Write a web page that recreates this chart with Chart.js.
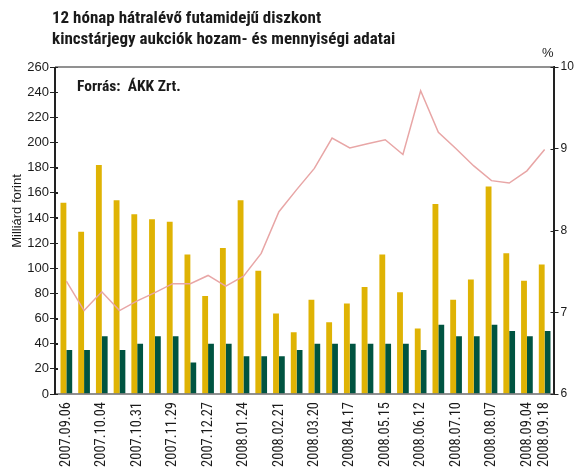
<!DOCTYPE html>
<html>
<head>
<meta charset="utf-8">
<script src="https://cdn.jsdelivr.net/npm/chart.js@4/dist/chart.umd.min.js"></script>
<style>
  body { margin: 0; background: #fff; }
  #wrap { width: 575px; height: 468px; }
</style>
</head>
<body>
<div id="wrap"><canvas id="auction_chart" width="575" height="468"></canvas></div>
<script>
let auction_dates = ['2007.09.06', '2007.09.20', '2007.10.04', '2007.10.18', '2007.10.31', '2007.11.15',
  '2007.11.29', '2007.12.13', '2007.12.27', '2008.01.10', '2008.01.24', '2008.02.07', '2008.02.21',
  '2008.03.06', '2008.03.20', '2008.04.03', '2008.04.17', '2008.04.30', '2008.05.15', '2008.05.29',
  '2008.06.12', '2008.06.26', '2008.07.10', '2008.07.24', '2008.08.07', '2008.08.21', '2008.09.04',
  '2008.09.18'];

// milliard forint
let bid_amounts = [152, 129, 182, 154, 143, 139, 137, 111, 78, 116, 154, 98, 64, 49,
  75, 57, 72, 85, 111, 81, 52, 151, 75, 91, 165, 112, 90, 103];
let accepted_amounts = [35, 35, 46, 35, 40, 46, 46, 25, 40, 40, 30, 30, 30, 35,
  40, 40, 40, 40, 40, 40, 35, 55, 46, 46, 55, 50, 46, 50];

// percent, right axis
let avg_yields = [7.38, 7.02, 7.25, 7.02, 7.14, 7.24, 7.35, 7.35, 7.45, 7.32, 7.44, 7.72, 8.23, 8.50,
  8.76, 9.13, 9.01, 9.06, 9.11, 8.93, 9.71, 9.20, 9.00, 8.79, 8.61, 8.58, 8.73, 8.99];

let title_lines = ['12 hónap hátralévő futamidejű diszkont', 'kincstárjegy aukciók hozam- és mennyiségi adatai'];
let source_text = 'Forrás:  ÁKK Zrt.';
let left_axis_title = 'Milliárd forint';

let narrow = "'Roboto Condensed', 'DejaVu Sans Condensed', sans-serif";
let regular = "'Liberation Sans', Arial, sans-serif";

// the left axis line sits a little left of where the bars begin
let axis_x = 55;

// texts, frame and the cross-over tick stubs that Chart.js can't draw itself
let decorations = {
  id: 'decorations',
  afterDraw(chart) {
    let ctx = chart.ctx;
    let area = chart.chartArea;
    ctx.save();

    ctx.fillStyle = '#1a1a1a';
    ctx.font = 'bold 17px ' + narrow;
    ctx.textAlign = 'left';
    ctx.textBaseline = 'alphabetic';
    ctx.fillText(title_lines[0], 52, 23);
    ctx.fillText(title_lines[1], 52, 44);

    ctx.font = 'bold 15.5px ' + narrow;
    ctx.fillText(source_text, 77, 91);

    ctx.font = '13px ' + regular;
    ctx.textAlign = 'right';
    ctx.fillText('%', area.right, 57);

    ctx.save();
    ctx.translate(21, 211);
    ctx.rotate(-Math.PI / 2);
    ctx.textAlign = 'center';
    ctx.fillText(left_axis_title, 0, 0);
    ctx.restore();

    // top and bottom frame lines
    ctx.strokeStyle = '#6d6d6d';
    ctx.lineWidth = 1.5;
    ctx.beginPath();
    ctx.moveTo(axis_x, area.top);
    ctx.lineTo(area.right, area.top);
    ctx.moveTo(axis_x, area.bottom);
    ctx.lineTo(area.right, area.bottom);
    ctx.stroke();

    // left axis line
    ctx.strokeStyle = '#222';
    ctx.lineWidth = 2;
    ctx.beginPath();
    ctx.moveTo(axis_x, area.top);
    ctx.lineTo(axis_x, area.bottom + 0.5);
    ctx.stroke();

    // inner part of the tick marks
    ctx.lineWidth = 1;
    let y = chart.scales.y;
    y.ticks.forEach(function(t, i) {
      let py = Math.round(y.getPixelForTick(i)) + 0.5;
      ctx.beginPath();
      ctx.moveTo(axis_x, py);
      ctx.lineTo(axis_x + 3, py);
      ctx.stroke();
    });
    let y2 = chart.scales.y2;
    y2.ticks.forEach(function(t, i) {
      let py = Math.round(y2.getPixelForTick(i)) + 0.5;
      ctx.beginPath();
      ctx.moveTo(area.right - 3, py);
      ctx.lineTo(area.right, py);
      ctx.stroke();
    });

    ctx.restore();
  }
};

function buildAuctionChart(ctx) {
  let last = auction_dates.length - 1;

  return new Chart(ctx, {
    type: 'bar',
    data: {
      labels: auction_dates,
      datasets: [
        {
          type: 'line',
          label: 'Átlaghozam',
          data: avg_yields,
          yAxisID: 'y2',
          borderColor: '#e8a6a6',
          borderWidth: 1.5,
          pointRadius: 0,
          tension: 0,
          order: 0
        },
        {
          label: 'Benyújtott',
          data: bid_amounts,
          backgroundColor: '#dfb304',
          yAxisID: 'y',
          categoryPercentage: 0.66,
          barPercentage: 1.0,
          order: 1
        },
        {
          label: 'Elfogadott',
          data: accepted_amounts,
          backgroundColor: '#005441',
          yAxisID: 'y',
          categoryPercentage: 0.66,
          barPercentage: 1.0,
          order: 1
        }
      ]
    },
    options: {
      responsive: false,
      animation: false,
      layout: { padding: { top: 67, left: 0, right: 0, bottom: 0 } },
      plugins: {
        legend: { display: false },
        tooltip: { enabled: false }
      },
      scales: {
        x: {
          grid: { display: false, drawTicks: false },
          border: { display: false },
          ticks: {
            autoSkip: false,
            minRotation: 90,
            maxRotation: 90,
            padding: 8,
            color: '#1a1a1a',
            font: { family: narrow, size: 14.5 },
            callback: function(value, index) {
              return (index % 2 == 0 || index == last) ? auction_dates[index] : '';
            }
          },
          afterFit: function(scale) { scale.height = 74; }
        },
        y: {
          position: 'left',
          min: 0,
          max: 260,
          ticks: {
            stepSize: 20,
            padding: 1,
            color: '#1a1a1a',
            font: { family: regular, size: 13 }
          },
          grid: { drawOnChartArea: false, tickLength: 7.5, color: '#222' },
          border: { display: false },
          afterFit: function(scale) { scale.width = 57.5; }
        },
        y2: {
          position: 'right',
          min: 6,
          max: 10,
          ticks: {
            stepSize: 1,
            padding: 2,
            color: '#1a1a1a',
            font: { family: regular, size: 12 }
          },
          grid: { drawOnChartArea: false, tickLength: 5, color: '#222' },
          border: { color: '#222', width: 2 },
          afterFit: function(scale) { scale.width = 21.5; }
        }
      }
    },
    plugins: [decorations]
  });
}

let ctx = document.getElementById('auction_chart').getContext('2d');
buildAuctionChart(ctx);
</script>
</body>
</html>
